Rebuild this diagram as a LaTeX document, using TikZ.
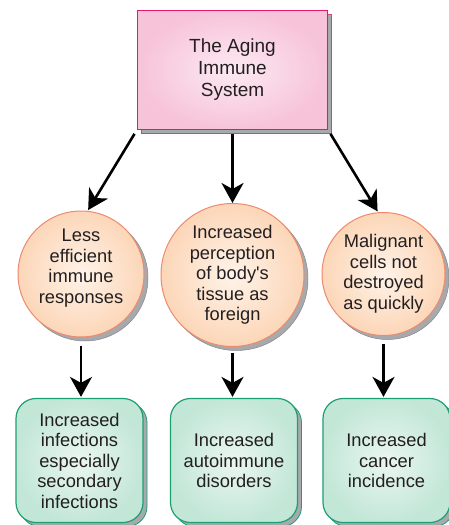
\documentclass[tikz,border=0pt]{standalone}
\usepackage{fontspec}
\setmainfont{Liberation Sans}
\usetikzlibrary{arrows.meta,shadows}
\definecolor{pinkedge}{HTML}{E5176B}
\definecolor{pinkfill}{HTML}{F7C3D9}
\definecolor{pinkin}{HTML}{FCEAF2}
\definecolor{peachedge}{HTML}{EE8A6E}
\definecolor{peachfill}{HTML}{FCD6B8}
\definecolor{peachin}{HTML}{FFF3E8}
\definecolor{greenedge}{HTML}{1E9E74}
\definecolor{greenfill}{HTML}{C3E7D7}
\definecolor{greenin}{HTML}{EAF6F1}
\definecolor{shadowgray}{HTML}{A7A9AC}
\definecolor{textgray}{HTML}{231F20}
\tikzset{
  txt/.style={text=textgray, align=center, font=\fontsize{18.3pt}{20.5pt}\selectfont},
  topbox/.style={txt, rectangle, draw=pinkedge, line width=1.8pt, shading=radial,
    inner color=pinkin, outer color=pinkfill, minimum width=190pt, minimum height=119pt,
    font=\fontsize{19pt}{22pt}\selectfont,
    general shadow={shadow xshift=4pt, shadow yshift=-4pt, fill=shadowgray, draw=pinkedge!70!shadowgray, line width=0.8pt}},
  bubble/.style={circle, draw=peachedge, line width=1pt, shading=radial,
    inner color=peachin, outer color=peachfill, inner sep=0pt,
    general shadow={shadow xshift=4pt, shadow yshift=-4pt, fill=shadowgray, draw=shadowgray!80!black, line width=0.5pt}},
  outcome/.style={txt, rectangle, rounded corners=20pt, draw=greenedge, line width=1.2pt, shading=radial,
    inner color=greenin, outer color=greenfill, minimum width=127pt, minimum height=124pt, inner sep=0pt,
    general shadow={shadow xshift=4pt, shadow yshift=-4pt, fill=shadowgray, draw=greenedge, line width=0.8pt}},
  link/.style={draw=black, line width=2.6pt, -{Stealth[length=20pt,width=22pt,inset=6pt]}}
}
\begin{document}
\begin{tikzpicture}[x=1pt,y=-1pt]
\useasboundingbox[fill=white] (0,0) rectangle (449,525);
\node[topbox] (top) at (232.5,70) {The Aging\\Immune\\System};
\node[bubble, minimum size=126pt] (c1) at (81,274) {};
\node[txt] (t1) at (81,268) {Less\\efficient\\immune\\responses};
\node[bubble, minimum size=143pt] (c2) at (232.5,275) {};
\node[txt] (t2) at (232.5,275) {Increased\\perception\\of body\textquotesingle s\\tissue as\\foreign};
\node[bubble, minimum size=123pt] (c3) at (383.5,274) {};
\node[txt] (t3) at (383.5,274) {Malignant\\cells not\\destroyed\\as quickly};
\node[outcome] (b1) at (79.5,460.5) {Increased\\infections\\especially\\secondary\\infections};
\node[outcome] (b2) at (234,460.5) {Increased\\autoimmune\\disorders};
\node[outcome] (b3) at (386.5,460.5) {Increased\\cancer\\incidence};
\draw[link, shorten <=4pt, shorten >=1pt] (top.south west) -- (c1.84);
\draw[link, shorten <=4pt, shorten >=0pt] (top.south) -- (c2.north);
\draw[link, shorten <=4pt, shorten >=1pt] (top.south east) -- (c3.95);
\draw[link, shorten <=8pt, shorten >=1pt] (c1.south) -- (b1.north -| c1.south);
\draw[link, shorten <=6pt, shorten >=1pt] (c2.south) -- (b2.north -| c2.south);
\draw[link, shorten <=8pt, shorten >=1pt] (c3.south) -- (b3.north -| c3.south);
\end{tikzpicture}
\end{document}
